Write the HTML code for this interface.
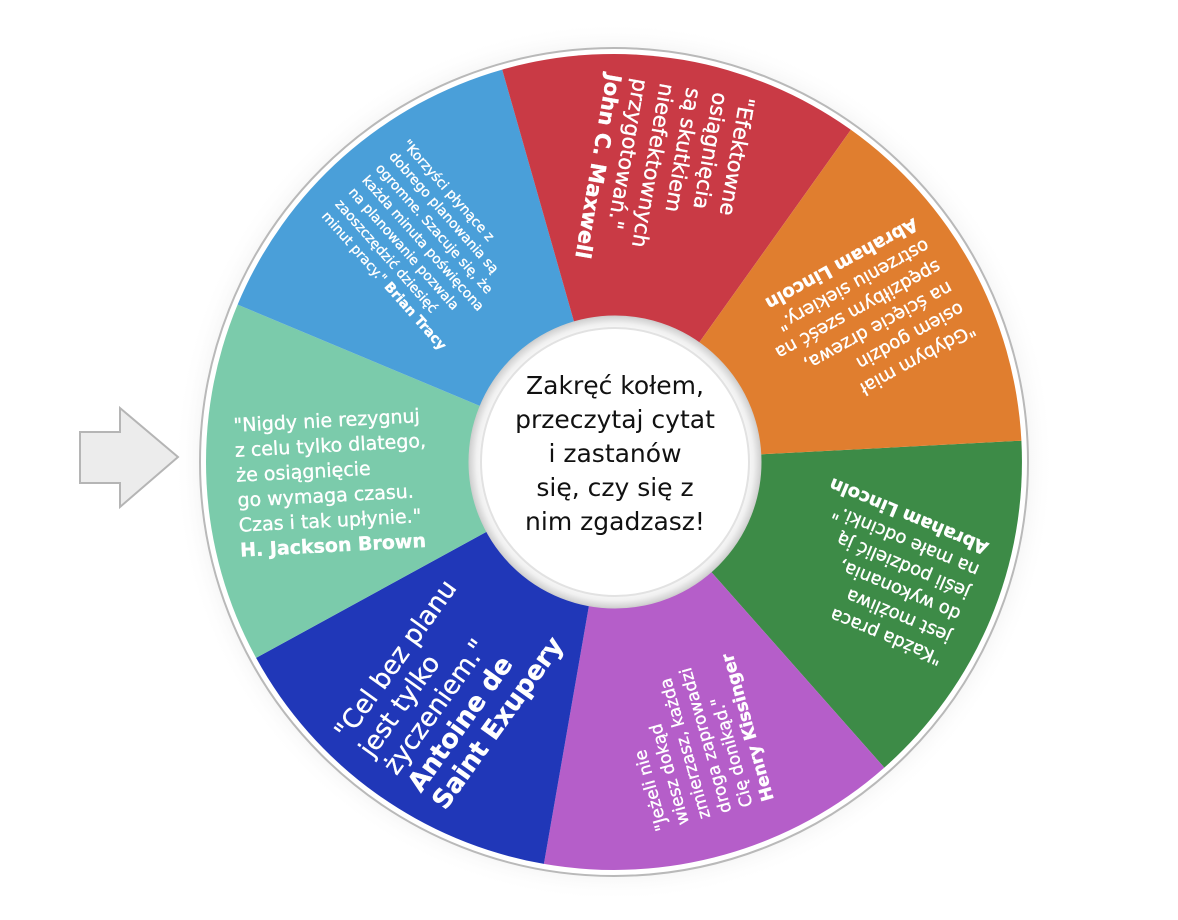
<!DOCTYPE html>
<html><head><meta charset="utf-8"><style>
html,body{margin:0;padding:0;background:#fff;}
svg{display:block;}
text{font-family:"DejaVu Sans","Liberation Sans",sans-serif;fill:#fff;stroke:#fff;stroke-width:0.35;}
.b{font-weight:bold;}
</style></head><body>
<svg width="1178" height="920" viewBox="0 0 1178 920" xmlns="http://www.w3.org/2000/svg">
<defs>
<radialGradient id="halo" cx="0.5" cy="0.5" r="0.5">
<stop offset="0.9" stop-color="#e8e8e8"/><stop offset="1" stop-color="#fff" stop-opacity="0"/>
</radialGradient>
<radialGradient id="inner" cx="0.5" cy="0.5" r="0.5">
<stop offset="0.88" stop-color="#fff"/><stop offset="0.95" stop-color="#f0f0f0"/><stop offset="1" stop-color="#d0d0d0"/>
</radialGradient>
</defs>
<circle cx="614" cy="462" r="440" fill="url(#halo)"/>
<circle cx="614" cy="462" r="414" fill="#fff" stroke="#b9b9b9" stroke-width="2"/>
<path d="M614 462 L1021.4 440.7 A408 408 0 0 1 884.3 767.6Z" fill="#3d8b47"/>
<path d="M614 462 L884.3 767.6 A408 408 0 0 1 543.9 863.9Z" fill="#b55ec9"/>
<path d="M614 462 L543.9 863.9 A408 408 0 0 1 256.1 657.9Z" fill="#2037b8"/>
<path d="M614 462 L256.1 657.9 A408 408 0 0 1 237.6 304.6Z" fill="#7bcbab"/>
<path d="M614 462 L237.6 304.6 A408 408 0 0 1 502.2 69.6Z" fill="#4a9fd9"/>
<path d="M614 462 L502.2 69.6 A408 408 0 0 1 850.9 129.8Z" fill="#c93a45"/>
<path d="M614 462 L850.9 129.8 A408 408 0 0 1 1021.4 440.7Z" fill="#e07e2f"/>

<g transform="rotate(-3 614 462)" font-size="19">
<text x="236" y="412">"Nigdy nie rezygnuj</text>
<text x="236" y="437">z celu tylko dlatego,</text>
<text x="236" y="462">że osiągnięcie</text>
<text x="236" y="487">go wymaga czasu.</text>
<text x="236" y="512">Czas i tak upłynie."</text>
<text x="236" y="537" class="b">H. Jackson Brown</text>
</g>
<g transform="rotate(48.4 614 462)" font-size="13.5">
<text x="236" y="410">"Korzyści płynące z</text>
<text x="236" y="428">dobrego planowania są</text>
<text x="236" y="446">ogromne. Szacuje się, że</text>
<text x="236" y="464">każda minuta poświęcona</text>
<text x="236" y="482">na planowanie pozwala</text>
<text x="236" y="500">zaoszczędzić dziesięć</text>
<text x="236" y="518">minut pracy." <tspan class="b">Brian Tracy</tspan></text>
</g>
<g transform="rotate(99.8 614 462)" font-size="21">
<text x="232" y="400">"Efektowne</text>
<text x="232" y="427">osiągnięcia</text>
<text x="232" y="454">są skutkiem</text>
<text x="232" y="481">nieefektownych</text>
<text x="232" y="508">przygotowań."</text>
<text x="232" y="535" class="b">John C. Maxwell</text>
</g>
<g transform="rotate(151.25 614 462)" font-size="18">
<text x="234" y="412">"Gdybym miał</text>
<text x="234" y="436">osiem godzin</text>
<text x="234" y="460">na ścięcie drzewa,</text>
<text x="234" y="484">spędziłbym sześć na</text>
<text x="234" y="508">ostrzeniu siekiery."</text>
<text x="234" y="532" class="b">Abraham Lincoln</text>
</g>
<g transform="rotate(-157.25 614 462)" font-size="18">
<text x="236" y="412">"Każda praca</text>
<text x="236" y="436">jest możliwa</text>
<text x="236" y="460">do wykonania,</text>
<text x="236" y="484">jeśli podzielić ją</text>
<text x="236" y="508">na małe odcinki."</text>
<text x="236" y="532" class="b">Abraham Lincoln</text>
</g>
<g transform="rotate(-105.8 614 462)" font-size="17">
<text x="246" y="414">"Jeżeli nie</text>
<text x="246" y="436">wiesz dokąd</text>
<text x="246" y="458">zmierzasz, każda</text>
<text x="246" y="480">droga zaprowadzi</text>
<text x="246" y="502">Cię donikąd."</text>
<text x="246" y="524" class="b">Henry Kissinger</text>
</g>
<g transform="rotate(-54.4 614 462)" font-size="26">
<text x="232" y="408">"Cel bez planu</text>
<text x="232" y="438">jest tylko</text>
<text x="232" y="468">życzeniem."</text>
<text x="232" y="498" class="b">Antoine de</text>
<text x="232" y="528" class="b">Saint Exupery</text>
</g>

<circle cx="615" cy="462" r="146" fill="url(#inner)" stroke="#cfcfcf" stroke-width="1"/>
<circle cx="615" cy="462" r="134" fill="#fff" stroke="#e2e2e2" stroke-width="2"/>
<g font-size="25" text-anchor="middle">
<text x="615" y="394" style="fill:#111;stroke:none">Zakręć kołem,</text>
<text x="615" y="428" style="fill:#111;stroke:none">przeczytaj cytat</text>
<text x="615" y="462" style="fill:#111;stroke:none">i zastanów</text>
<text x="615" y="496" style="fill:#111;stroke:none">się, czy się z</text>
<text x="615" y="530" style="fill:#111;stroke:none">nim zgadzasz!</text>
</g>

<path d="M80 432 L120 432 L120 408 L178 457 L120 507 L120 483 L80 483 Z" fill="#ececec" stroke="#b5b5b5" stroke-width="2"/>
</svg>
</body></html>
